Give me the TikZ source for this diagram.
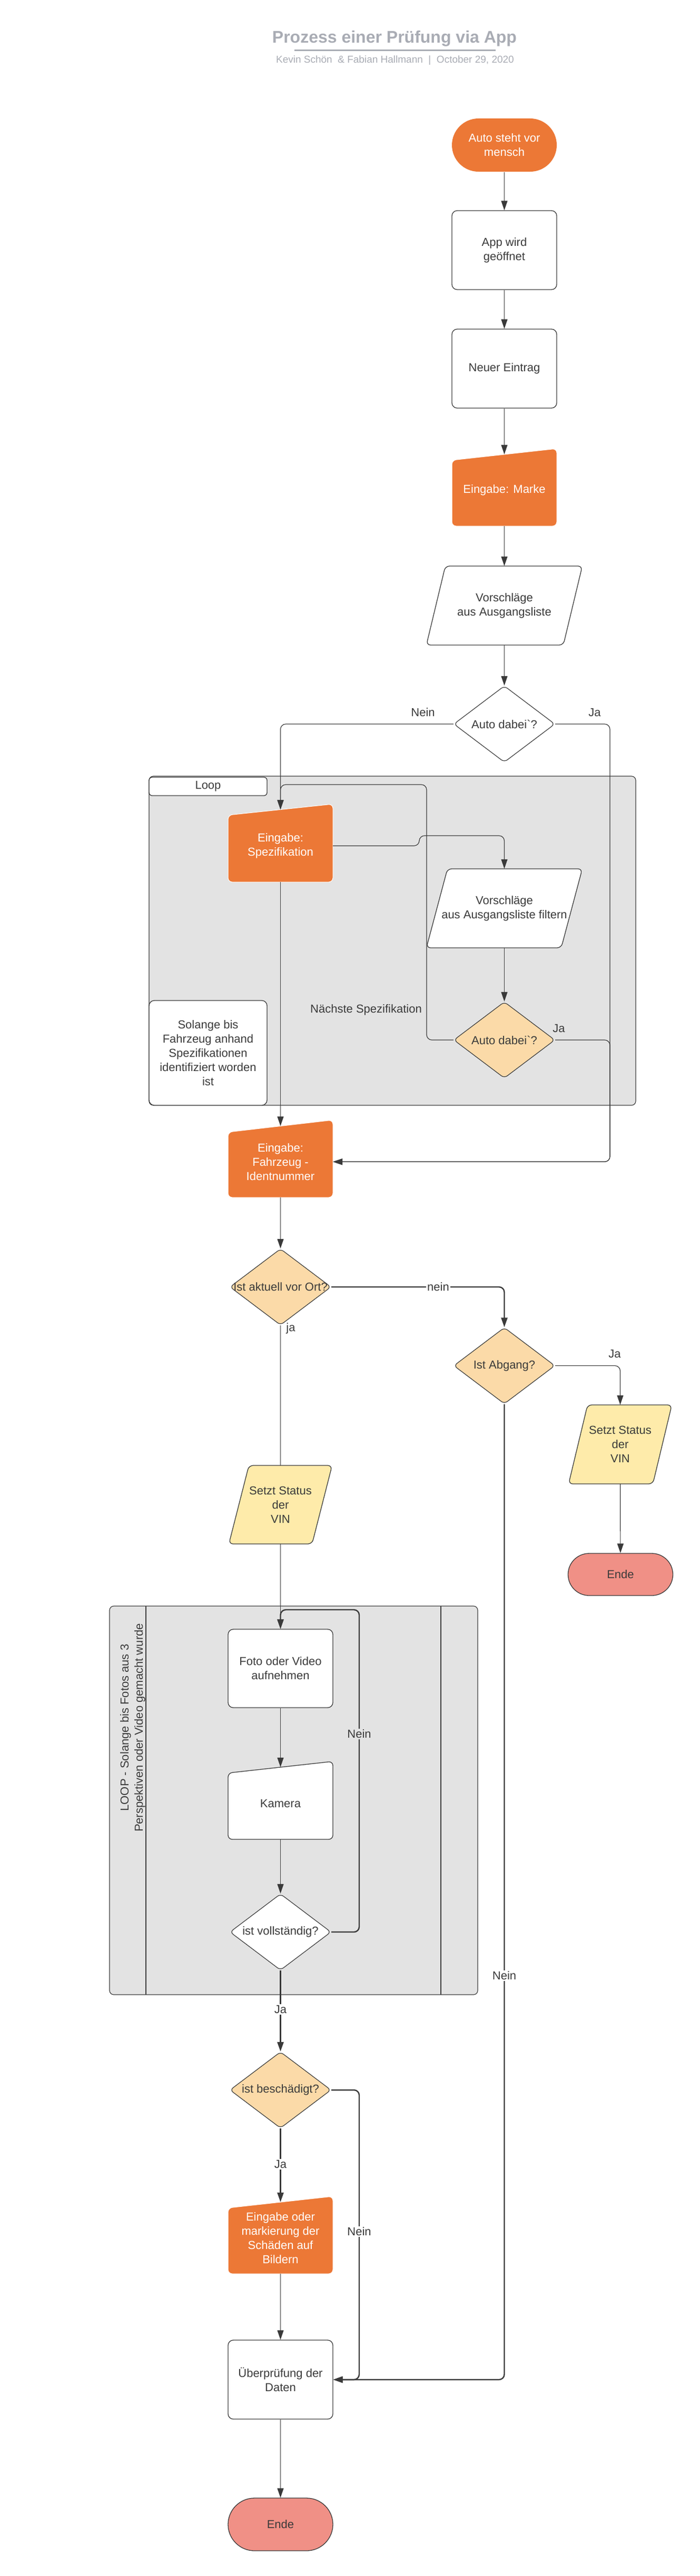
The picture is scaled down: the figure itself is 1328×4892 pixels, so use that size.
\documentclass[tikz,border=0pt]{standalone}
\usepackage{fontspec}
\setmainfont{Liberation Sans}[Ligatures=TeXOff]
\usetikzlibrary{shapes.geometric,arrows.meta}
\definecolor{orng}{HTML}{EC7836}
\definecolor{peach}{HTML}{FBDAA8}
\definecolor{lyellow}{HTML}{FEEBAA}
\definecolor{salmon}{HTML}{F09086}
\definecolor{loopgray}{HTML}{E3E3E3}
\definecolor{ink}{HTML}{3A3A3A}
\definecolor{ttl}{HTML}{A9ACB4}
\tikzset{
  base/.style={font=\fontsize{22}{27}\selectfont, text=ink, align=center, inner sep=0pt},
  wbox/.style={base, draw=ink, line width=1.3pt, fill=white, rounded corners=10pt, minimum width=199pt, minimum height=150pt},
  pill/.style={base, draw=ink, line width=1.3pt, rounded corners=#1, minimum width=199pt, minimum height=2*#1},
  dia/.style={base, diamond, draw=ink, line width=1.2pt, rounded corners=7pt, minimum width=192pt, minimum height=145pt},
  txt/.style={base, minimum width=199pt},
  conn/.style={draw=ink, line width=1.2pt, rounded corners=10pt, -{Triangle[length=18pt,width=12pt]}},
  bconn/.style={conn, line width=2.4pt},
  plain/.style={draw=ink, line width=1.2pt},
  lbl/.style={font=\fontsize{22}{27}\selectfont, text=ink, inner sep=2pt},
  cont/.style={draw=ink, line width=1.2pt, fill=loopgray, rounded corners=8pt, inner sep=0pt},
  orngshape/.style={fill=orng, draw=white, line width=1pt, rounded corners=8pt},
}
% name, cx, y top right, y top left, y bottom, path style, node style, text
\newcommand{\mkmanin}[8]{%
  \path[#6] ({#2-99.5},#4) -- ({#2+99.5},#3) -- ({#2+99.5},#5) -- ({#2-99.5},#5) -- cycle;
  \node[txt, minimum height={(#5-(#3+#4)/2)*1pt}, #7] (#1) at (#2,{((#3+#4)/2+#5)/2}) {#8};
}
% name, cx, ytop, ybot, halfwidth, slant, path style, text
\newcommand{\mkpara}[8]{%
  \path[#7] ({#2-#5+#6},#3) -- ({#2+#5+#6},#3) -- ({#2+#5-#6},#4) -- ({#2-#5-#6},#4) -- cycle;
  \node[txt, minimum width={2*#5*1pt}, minimum height={(#4-#3)*1pt}] (#1) at (#2,{(#3+#4)/2}) {#8};
}
\begin{document}
\begin{tikzpicture}[x=1pt,y=-1pt]
\useasboundingbox (0,0) rectangle (1328,4892);

% title
\node[font=\fontsize{32}{38}\selectfont\bfseries, text=ttl, inner sep=0pt] (title) at (749,73) {Prozess einer Prüfung via App};
\draw[ttl, line width=3pt] (559,96) -- (941,96);
\node[font=\fontsize{19}{23}\selectfont, text=ttl, inner sep=0pt] (sub) at (750,115) {Kevin Schön~ \& Fabian Hallmann~ |~ October 29, 2020};

% containers
\node[cont, minimum width=924pt, minimum height=625pt] (loop1) at (745,1786.5) {};
\node[wbox, minimum width=224pt, minimum height=35pt, rounded corners=6pt] (looptab) at (395,1493.5) {Loop};
\node[wbox, minimum width=224pt, minimum height=199pt] (solange) at (395,1999.5) {Solange bis\\Fahrzeug anhand\\Spezifikationen\\identifiziert worden\\ist};

\node[cont, minimum width=699pt, minimum height=738pt] (loop2) at (557.5,3419) {};
\draw[plain] (277,3050) -- (277,3788);
\draw[plain] (837,3050) -- (837,3788);
\node[base, rotate=90] (looptxt) at (252,3281) {LOOP - Solange bis Fotos aus 3\\Perspektiven oder Video gemacht wurde};

% main column
\node[pill=50.5pt, draw=none, fill=orng, text=white] (start) at (957.5,275.5) {Auto steht vor\\mensch};
\node[wbox] (app) at (957.5,475) {App wird\\geöffnet};
\node[wbox] (neu) at (957.5,700) {Neuer Eintrag};
\mkmanin{marke}{957.5}{852}{874}{999}{orngshape}{text=white}{Eingabe: Marke}
\mkpara{vor1}{957.5}{1075}{1225}{130}{18}{draw=ink, line width=1.3pt, fill=white, rounded corners=8pt}{Vorschläge\\aus Ausgangsliste}
\node[dia, fill=white, label={[base]center:Auto dabei`?}] (d1) at (957.5,1375) {};

\mkmanin{spez}{532.5}{1527}{1548}{1675}{orngshape}{text=white}{Eingabe:\\Spezifikation}
\mkpara{filt}{957.5}{1650}{1800}{128}{20}{draw=ink, line width=1.3pt, fill=white, rounded corners=8pt}{Vorschläge\\aus Ausgangsliste filtern}
\node[dia, fill=peach, label={[base]center:Auto dabei`?}] (d2) at (957.5,1975) {};

\mkmanin{fahr}{532.5}{2127}{2150}{2274}{orngshape}{text=white}{Eingabe:\\Fahrzeug -\\Identnummer}
\node[dia, fill=peach, label={[base]center:Ist aktuell vor Ort?}] (d3) at (532.5,2444) {};
\node[dia, fill=peach, label={[base]center:Ist Abgang?}] (d4) at (957.5,2593.5) {};
\mkpara{vin2}{1177.5}{2668}{2818}{80}{18}{draw=ink, line width=1.3pt, fill=lyellow, rounded corners=8pt}{Setzt Status\\der\\VIN}
\node[pill=40pt, fill=salmon] (ende1) at (1178,2990) {Ende};
\mkpara{vin1}{532.5}{2783}{2932}{79}{19}{draw=ink, line width=1.3pt, fill=lyellow, rounded corners=8pt}{Setzt Status\\der\\VIN}

\node[wbox, minimum height=149pt] (foto) at (532.5,3168.5) {Foto oder Video\\aufnehmen};
\mkmanin{kam}{532.5}{3345}{3367}{3493}{draw=ink, line width=1.3pt, fill=white, rounded corners=8pt}{}{Kamera}
\node[dia, fill=white, label={[base]center:ist vollständig?}] (d5) at (532.5,3669) {};
\node[dia, fill=peach, label={[base]center:ist beschädigt?}] (d6) at (532.5,3969) {};
\mkmanin{mark}{532.5}{4171}{4193}{4318}{orngshape}{text=white}{Eingabe oder\\markierung der\\Schäden auf\\Bildern}
\node[wbox] (pruef) at (532.5,4519) {Überprüfung der\\Daten};
\node[pill=50pt, fill=salmon] (ende2) at (532.5,4794) {Ende};

% helper coordinates
\coordinate (jx) at (1158,1375);
\coordinate (hop) at (796,1587);
\coordinate (lb) at (810,1490);
\coordinate (lt) at (682,3057);

% connectors
\draw[conn] (start) -- (app);
\draw[conn] (app) -- (neu);
\draw[conn] (neu) -- (marke);
\draw[conn] (marke) -- (vor1);
\draw[conn] (vor1) -- (d1);
\draw[conn] (d1.west) -- (d1.west -| spez.north) -- (spez.north);
\draw[conn] (d1.east) -- (d1.east -| jx) -- (fahr.east -| jx) -- (fahr.east);
\draw[conn] (spez.east) -- (spez.east -| hop) -- (hop) -- (hop -| filt.north) -- (filt.north);
\draw[conn] (filt) -- (d2);
\draw[conn] (d2.west) -- (d2.west -| lb) -- (lb) -- (lb -| spez.north) -- (spez.north);
\draw[conn] (d2.east) -- (d2.east -| jx) -- (fahr.east -| jx) -- (fahr.east);
\draw[conn] (spez) -- (fahr);
\draw[conn] (fahr) -- (d3);
\draw[bconn] (d3.east) -- (d3.east -| d4.north) -- (d4.north);
\draw[plain] (d3.south) -- (vin1.north);
\draw[conn] (vin1) -- (foto);
\draw[conn] (d4.east) -- (d4.east -| vin2.north) -- (vin2.north);
\draw[conn] (vin2) -- (ende1);
\draw[bconn] (d4.south) -- (d4.south |- pruef.east) -- (pruef.east);
\draw[conn] (foto) -- (kam);
\draw[conn] (kam) -- (d5);
\draw[bconn] (d5.east) -- (d5.east -| lt) -- (lt) -- (lt -| foto.north) -- (foto.north);
\draw[bconn] (d5) -- (d6);
\draw[bconn] (d6) -- (mark);
\draw[bconn] (d6.east) -- (d6.east -| lt) -- (pruef.east -| lt) -- (pruef.east);
\draw[conn] (mark) -- (pruef);
\draw[conn] (pruef) -- (ende2);

% labels
\node[lbl] (l1) at (803,1353) {Nein};
\node[lbl] (l2) at (1129,1353) {Ja};
\node[lbl] (l3) at (1061,1953) {Ja};
\node[lbl] (l4) at (695,1918) {Nächste Spezifikation};
\node[lbl, fill=white] (l5) at (832,2444) {nein};
\node[lbl] (l6) at (552,2523) {ja};
\node[lbl] (l7) at (1167,2571) {Ja};
\node[lbl, fill=loopgray] (l8) at (682,3293) {Nein};
\node[lbl, fill=white] (l9) at (957.5,3752) {Nein};
\node[lbl, fill=white] (l10) at (532.5,3816) {Ja};
\node[lbl, fill=white] (l11) at (532.5,4110) {Ja};
\node[lbl, fill=white] (l12) at (682,4238) {Nein};
\end{tikzpicture}
\end{document}
